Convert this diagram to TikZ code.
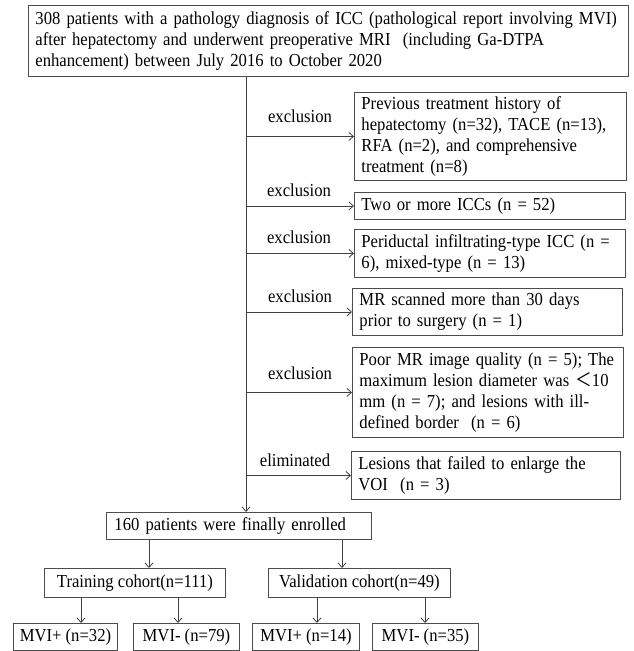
\documentclass[tikz,border=0pt]{standalone}
\usepackage{fontspec}
\setmainfont[FakeStretch=0.91]{Liberation Serif}
\newfontfamily\cjk[FakeStretch=0.91]{Noto Sans CJK SC}
\usetikzlibrary{arrows.meta}
\newcommand\Lx[1]{\mbox{#1}}
\begin{document}
\begin{tikzpicture}[x=1pt,y=-1pt,
  txt/.style={font=\fontsize{18.3}{20.9}\selectfont},
  box/.style={txt, draw=black!70, line width=0.9pt, anchor=north west, inner xsep=7pt, inner ysep=1pt, align=left},
  sbox/.style={txt, draw=black!70, line width=0.9pt, anchor=north west, inner xsep=2pt, inner ysep=1pt, align=center},
  arr/.style={draw=black!75, line width=0.8pt, -{Straight Barb[length=4.5pt,width=8pt]}},
  lab/.style={txt, inner sep=0pt}]
\useasboundingbox (0,0) rectangle (633,651);
% boxes
\node[box, minimum width=600pt, text width=586pt, minimum height=71pt] (top) at (28,5)
  {\Lx{308 patients with a pathology diagnosis of ICC (pathological report involving MVI)}\\
   \Lx{after hepatectomy and underwent preoperative MRI~ (including Ga-DTPA}\\
   \Lx{enhancement) between July 2016 to October 2020}};
\node[box, minimum width=272pt, text width=258pt, minimum height=88pt] (b1) at (354,92)
  {\Lx{Previous treatment history of}\\ \Lx{hepatectomy (n=32), TACE (n=13),}\\ \Lx{RFA (n=2), and comprehensive}\\ \Lx{treatment (n=8)}};
\node[box, minimum width=271pt, text width=257pt, minimum height=27pt] (b2) at (354,192)
  {\Lx{Two or more ICCs (n = 52)}};
\node[box, minimum width=271pt, text width=257pt, minimum height=48pt] (b3) at (354,229)
  {\Lx{Periductal infiltrating-type ICC (n =}\\ \Lx{6), mixed-type (n = 13)}};
\node[box, minimum width=270pt, text width=256pt, minimum height=47pt] (b4) at (352,288)
  {\Lx{MR scanned more than 30 days}\\ \Lx{prior to surgery (n = 1)}};
\node[box, minimum width=271pt, text width=257pt, minimum height=90pt] (b5) at (352,347)
  {\Lx{Poor MR image quality (n = 5); The}\\ \Lx{maximum lesion diameter was {\cjk ＜}10}\\ \Lx{mm (n = 7); and lesions with ill-}\\ \Lx{defined border~ (n = 6)}};
\node[box, minimum width=269pt, text width=255pt, minimum height=48pt] (b6) at (351,451)
  {\Lx{Lesions that failed to enlarge the}\\ \Lx{VOI~ (n = 3)}};
\node[box, inner xsep=8pt, minimum width=265pt, text width=249pt, minimum height=27pt] (enr) at (106,512)
  {\Lx{160 patients were finally enrolled}};
\node[sbox, minimum width=181pt, minimum height=29pt] (train) at (44,568) {Training cohort(n=111)};
\node[sbox, minimum width=182pt, minimum height=29pt] (valid) at (268,568) {Validation cohort(n=49)};
\node[sbox, minimum width=104pt, minimum height=27pt] (m1) at (13,623) {MVI+ (n=32)};
\node[sbox, minimum width=106pt, minimum height=27pt] (m2) at (133,623) {MVI- (n=79)};
\node[sbox, minimum width=107pt, minimum height=27pt] (m3) at (252,623) {MVI+ (n=14)};
\node[sbox, minimum width=106pt, minimum height=27pt] (m4) at (372,623) {MVI- (n=35)};
% spine
\coordinate (sp) at (246,0);
\draw[arr] (sp |- top.south) -- (sp |- enr.north);
\foreach \b in {b1,b2,b3,b4,b5,b6} \draw[arr] (sp |- \b.west) -- (\b.west);
% labels
\node[lab] (l1) at (300,116) {exclusion};
\node[lab] (l2) at (299,190) {exclusion};
\node[lab] (l3) at (299,237) {exclusion};
\node[lab] (l4) at (300,296) {exclusion};
\node[lab] (l5) at (300,373) {exclusion};
\node[lab] (l6) at (295,460) {eliminated};
% lower arrows
\coordinate (a1) at (149,0);
\coordinate (a2) at (342,0);
\coordinate (c1) at (81,0);
\coordinate (c2) at (178,0);
\coordinate (c3) at (317,0);
\coordinate (c4) at (425,0);
\draw[arr] (a1 |- enr.south) -- (a1 |- train.north);
\draw[arr] (a2 |- enr.south) -- (a2 |- valid.north);
\draw[arr] (c1 |- train.south) -- (c1 |- m1.north);
\draw[arr] (c2 |- train.south) -- (c2 |- m2.north);
\draw[arr] (c3 |- valid.south) -- (c3 |- m3.north);
\draw[arr] (c4 |- valid.south) -- (c4 |- m4.north);
\end{tikzpicture}
\end{document}
